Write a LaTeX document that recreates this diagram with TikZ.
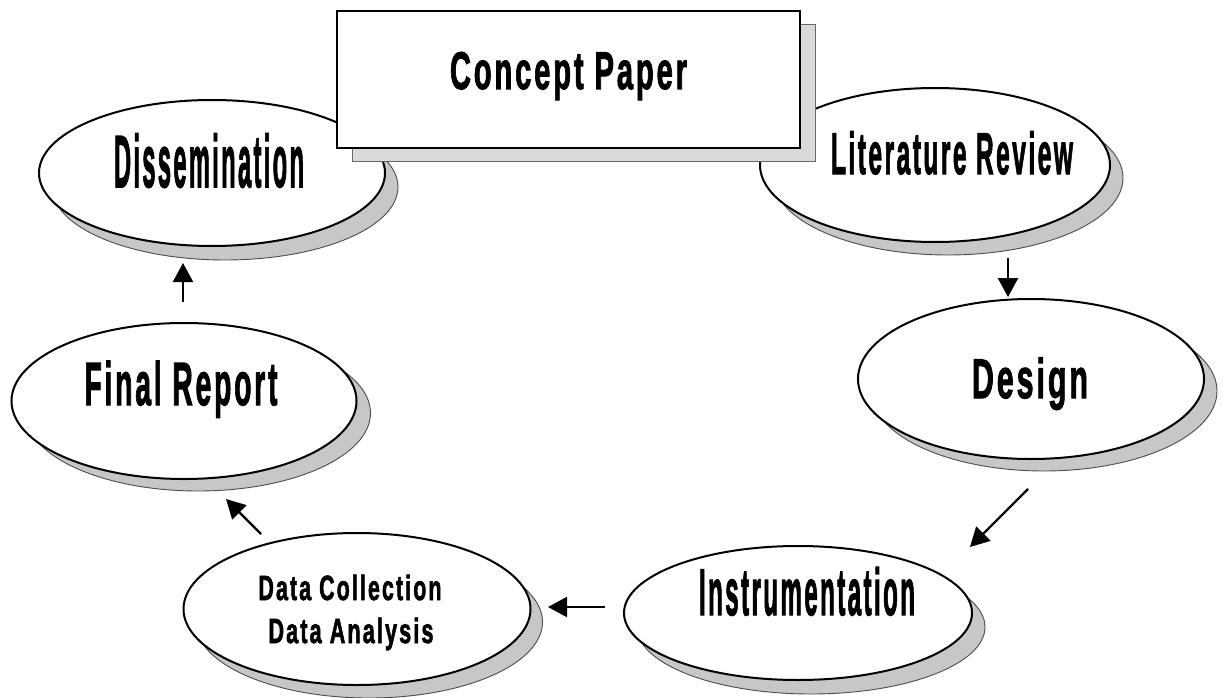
\documentclass[tikz,border=0pt]{standalone}
\usepackage{fontspec}
\usepackage{graphicx}
\setmainfont{Liberation Sans}
\newfontfamily\lblfont{Liberation Sans}[BoldFeatures={FakeBold=2.2}, LetterSpace=10]
\usetikzlibrary{shapes.geometric,arrows.meta}
\tikzset{
  stage/.style={ellipse, draw=black, line width=2pt, fill=white, inner sep=0pt},
  stageshadow/.style={ellipse, draw=black!70, line width=0.9pt, fill=black!22, inner sep=0pt},
  boxshape/.style={rectangle, draw=black, line width=2.5pt, fill=white, inner sep=0pt},
  boxshadow/.style={rectangle, draw=black!60, line width=0.9pt, fill=black!15, inner sep=0pt},
  lbl/.style={anchor=base, inner sep=0pt},
  arr/.style={line width=2.2pt, -{Triangle[width=20pt,length=19pt]}},
}
\newcommand\lab[3]{\resizebox{#1pt}{\height}{\lblfont\bfseries\fontsize{#2}{#2}\selectfont #3}}
\begin{document}
\begin{tikzpicture}[x=1pt,y=-1pt]
\useasboundingbox (0,0) rectangle (1223,698);
% shadows and ellipses
\node[stageshadow, minimum width=346pt, minimum height=146pt] (dissS) at (225,187) {};
\node[stage, minimum width=346pt, minimum height=146pt] (diss) at (212,173) {};
\node[stageshadow, minimum width=350pt, minimum height=154pt] (litS) at (948,178) {};
\node[stage, minimum width=350pt, minimum height=154pt] (lit) at (935,165) {};
\node[stageshadow, minimum width=346pt, minimum height=160pt] (designS) at (1044,391) {};
\node[stage, minimum width=346pt, minimum height=160pt] (design) at (1031,379) {};
\node[stageshadow, minimum width=348pt, minimum height=134pt] (instrS) at (811,627) {};
\node[stage, minimum width=348pt, minimum height=134pt] (instr) at (798,613) {};
\node[stageshadow, minimum width=347pt, minimum height=152pt] (dataS) at (369,622) {};
\node[stage, minimum width=347pt, minimum height=152pt] (data) at (357,609) {};
\node[stageshadow, minimum width=345pt, minimum height=156pt] (finalS) at (198,413) {};
\node[stage, minimum width=345pt, minimum height=156pt] (final) at (184,401) {};
% concept paper box
\node[boxshadow, minimum width=463pt, minimum height=137pt] (cpS) at (583.5,92.5) {};
\node[boxshape, minimum width=463pt, minimum height=137pt] (cp) at (568.5,79.5) {};
% labels
\node[lbl] (cpT) at ([shift={(0,9.5)}]cp.center) {\lab{237}{53}{Concept Paper}};
\node[lbl] (dissT) at ([shift={(-3,14)}]diss.center) {\lab{190}{74}{Dissemination}};
\node[lbl] (litT) at ([shift={(17,9)}]lit.center) {\lab{242}{59}{Literature Review}};
\node[lbl] (designT) at ([shift={(-1,19)}]design.center) {\lab{116}{56}{Design}};
\node[lbl] (instrT) at ([shift={(9,2)}]instr.center) {\lab{216}{66}{Instrumentation}};
\node[lbl] (finalT) at ([shift={(-3,4)}]final.center) {\lab{193}{61}{Final Report}};
\node[lbl] (dataT1) at ([shift={(-7,-9)}]data.center) {\lab{183}{35}{Data Collection}};
\node[lbl] (dataT2) at ([shift={(-6,34)}]data.center) {\lab{165}{35}{Data Analysis}};
% connectors
\draw[arr] ([shift={(73,93)}]lit.center) -- ([shift={(-23,-82)}]design.center);
\draw[arr] ([shift={(-3,110)}]design.center) -- ([shift={(172,-66)}]instr.center);
\draw[arr] ([shift={(-193,-6)}]instr.center) -- ([shift={(191,-2)}]data.center);
\draw[arr] ([shift={(-96,-75)}]data.center) -- ([shift={(42,98)}]final.center);
\draw[arr] ([shift={(-1,-99)}]final.center) -- ([shift={(-29,90)}]diss.center);
\end{tikzpicture}
\end{document}
